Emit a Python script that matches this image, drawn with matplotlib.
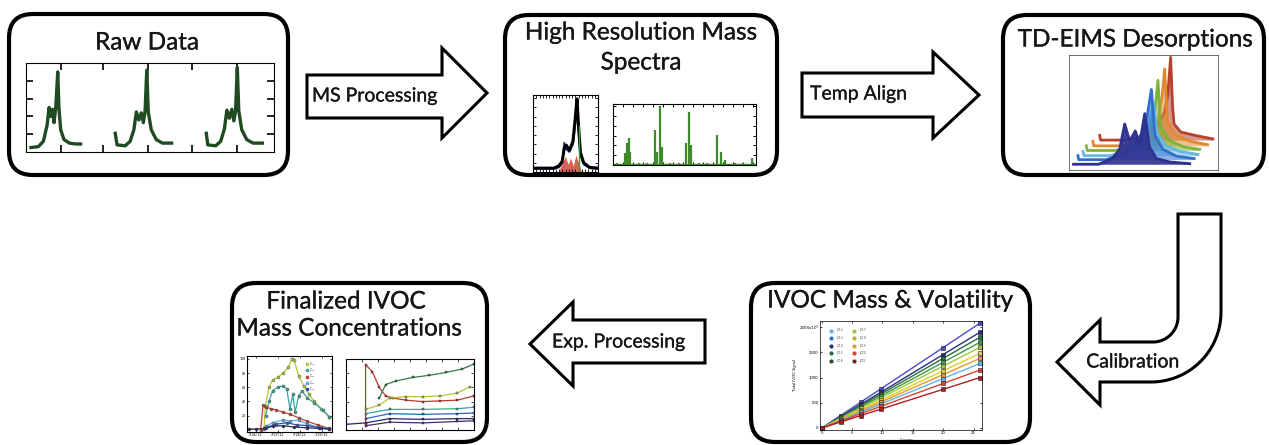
import matplotlib
matplotlib.use("Agg")
import matplotlib.pyplot as plt
import matplotlib.patheffects as pe
import numpy as np
from matplotlib.patches import FancyBboxPatch, Polygon
from matplotlib.ticker import MultipleLocator

plt.rcParams['font.family'] = ['Lato', 'DejaVu Sans']

W, H = 1269, 445

# ---------------- data ----------------
# Raw Data: three desorption traces (x and y in % of the panel)
raw_x1 = [2, 5, 7, 8.5, 9.3, 10, 10.7, 11.3, 12, 12.8, 13.3, 14, 15.3, 17.5, 20, 22]
raw_y1 = [5, 6, 12, 30, 50, 40, 48, 33, 50, 90, 48, 25, 14, 10, 9, 9]
raw_x2 = [36, 36.7, 40, 42, 43.5, 44.5, 45.5, 46.5, 47.3, 48, 48.7, 49.3, 50.5, 52.5, 55, 58.7]
raw_y2 = [21, 8, 7, 12, 25, 45, 36, 44, 33, 45, 92, 45, 25, 14, 10, 10]
raw_x3 = [72.7, 73.3, 76.5, 78.5, 80, 81, 82, 83, 83.8, 84.5, 85.2, 85.8, 87, 89, 91.5, 95.3]
raw_y3 = [21, 8, 7, 12, 26, 47, 38, 48, 35, 46, 95, 46, 25, 14, 10, 10]

# High resolution fit panel
hr_x = [0, 20, 32, 40, 45, 48, 51, 56, 61.5, 65, 67.7, 70, 73, 78, 87, 100]
hr_black = [5, 5, 5, 8, 14, 30, 35, 28, 40, 70, 95, 60, 25, 12, 6, 5]
hr_blue = [4, 4, 4, 6, 12, 38, 30, 26, 36, 62, 88, 55, 22, 10, 5, 4]
hr_red_x = [40, 45, 50, 54, 58, 62, 66, 70, 74]
hr_red = [2, 12, 20, 10, 18, 8, 22, 12, 2]

# High resolution spectrum sticks
spec_x = [3, 8.2, 9.8, 11, 12.2, 18, 24, 29.3, 30.9, 32.8, 34.2, 40, 46, 51.3, 53.2,
          54.6, 60, 66, 72.4, 75.4, 78.5, 85, 91, 97.2]
spec_h = [3, 19, 36, 44, 22, 3, 4, 57, 22, 96, 30, 3, 4, 36, 87,
          33, 3, 4, 49, 22, 8, 3, 4, 11]

# TD-EIMS desorption waterfall (back to front)
td_colors = ['#b5432c', '#e08a2e', '#7fb338', '#66b6e6', '#2f6fcf', '#2e318f']
td_x = [
    [20.6, 21.2, 39, 51, 59, 64, 66.3, 68.2, 69.5, 70.5, 75, 85, 96.6],
    [16, 16.6, 35, 47, 55, 60, 62.5, 64.2, 66, 71, 81, 93],
    [11.6, 12.2, 31, 43, 51, 55.5, 57.5, 59.7, 61.5, 67, 77, 87.7],
    [9.4, 10, 28, 40, 48, 53, 56.8, 59, 65, 75, 86.6],
    [6, 6.5, 25, 36, 45, 51, 55.3, 57.7, 63, 72, 84],
    [3, 20, 29, 34, 37.4, 40.7, 44.5, 47.4, 50.8, 54, 58.6, 67.6, 81],
]
td_y = [
    [30, 26, 26, 30, 38, 50, 65, 98, 55, 40, 33, 30, 27],
    [25, 21, 21, 25, 34, 45, 65, 88, 42, 31, 25, 22],
    [21, 17, 17, 21, 30, 40, 50, 78, 38, 26, 20, 18],
    [16, 12.5, 12.5, 17, 26, 36, 58, 32, 21, 16, 13.5],
    [12.5, 9, 9, 14, 25, 35, 70, 30, 18, 12, 10],
    [5, 5, 10, 18, 40, 25, 34, 22, 49, 20, 10, 7, 5.5],
]

# Calibration: IVOC mass vs total signal
cal_x = [0, 3.1, 6.4, 9.7, 20, 26.1]
cal_colors = ['#4a4ac8', '#22307f', '#2d6b3c', '#3f9a4a', '#9cc93a',
              '#e0cf2a', '#e89a24', '#62b2e8', '#d8442f', '#a82222']
cal_y = [
    [0, 247, 510, 773, 1594, 2080],
    [0, 226, 466, 706, 1456, 1900],
    [0, 214, 442, 669, 1380, 1800],
    [0, 202, 417, 631, 1302, 1700],
    [0, 190, 392, 595, 1226, 1600],
    [0, 176, 363, 550, 1134, 1480],
    [0, 164, 339, 513, 1058, 1380],
    [0, 152, 314, 475, 980, 1280],
    [0, 137, 282, 428, 882, 1150],
    [0, 119, 245, 372, 766, 1000],
]
cal_leg_colors = ['#62b2e8', '#2f6fcf', '#22307f', '#2d6b3c', '#1f4f2a',
                  '#9cc93a', '#b8b020', '#e89a24', '#d8442f', '#7e1c1c']
cal_leg_labels = ['$C_{12}$', '$C_{13}$', '$C_{14}$', '$C_{15}$', '$C_{16}$',
                  '$C_{17}$', '$C_{18}$', '$C_{19}$', '$C_{20}$', '$C_{21}$']

# Finalized concentrations, left panel
fl_colors = ['#b5c83a', '#3aa6a0', '#c0452c', '#5aa8e0', '#3050b0', '#2a2a60']
fl_x = [
    [0, 20, 21.5, 26, 30, 36, 42.5, 48.5, 52.6, 55.5, 60.7, 66.8, 72.9, 79, 87, 97],
    [22, 26, 30, 36, 42.5, 46.6, 50.6, 53.8, 56.7, 60.7, 64.8, 70.9, 79, 89, 97],
    [16, 19, 22, 28, 34, 42.5, 50.6, 60.7, 70.9, 83, 97],
    [22, 30, 42.5, 50.6, 60.7, 70.9, 83, 97],
    [22, 34, 46.6, 58.7, 70.9, 87, 97],
    [2, 10, 20, 30, 42, 55, 70, 85, 97],
]
fl_y = [
    [1, 1, 34, 60, 70, 74, 80, 88, 100, 98, 76, 62, 50, 40, 30, 18],
    [20, 40, 55, 60, 62, 58, 30, 50, 25, 48, 55, 45, 38, 28, 18],
    [0, 35, 32, 30, 28, 25, 22, 17, 12, 7, 2],
    [5, 10, 14, 12, 14, 8, 4, 2],
    [3, 8, 10, 7, 6, 3, 1],
    [1, 1, 2, 5, 6, 4, 3, 2, 1],
]
fl_leg_labels = ['C$_{12}$', 'C$_{13}$', 'C$_{14}$', 'C$_{15}$', 'C$_{16}$']

# Finalized concentrations, right panel
fr_colors = ['#c0392b', '#2e7d46', '#b8c23a', '#3aa6a0', '#3060c0', '#222a66', '#4a2a6a']
fr_x = [
    [15.3, 15.3, 20.6, 26, 31, 36.5, 47, 60, 73.5, 86.8, 100],
    [26, 31, 39, 52, 65, 78, 91, 100],
    [15.3, 26, 34, 47, 60, 73.5, 86.8, 97],
    [15.3, 34, 60, 86.8, 100],
    [15.3, 34, 60, 86.8, 100],
    [0, 15.3, 34, 60, 86.8, 100],
    [15.3, 34, 60, 86.8, 100],
]
fr_y = [
    [8, 92, 82, 60, 48, 45, 42, 40, 41, 42, 48],
    [45, 64, 69, 74, 77, 81, 86, 93],
    [29, 35, 45, 47, 47, 48, 52, 61],
    [23, 29, 29, 30, 32],
    [16, 23, 22, 23, 24],
    [8, 10, 16, 15, 16, 16],
    [6, 11, 10, 12, 13],
]

# ---------------- figure ----------------
fig = plt.figure(figsize=(W / 100, H / 100), dpi=100)
bg = fig.add_axes([0, 0, 1, 1])
bg.set_xlim(0, W)
bg.set_ylim(H, 0)
bg.axis('off')

TXT = '#161616'
BOLDEN = [pe.withStroke(linewidth=0.2, foreground=TXT)]


def label(x, y, s, size=17.5, ha='center'):
    bg.text(x, y, s, ha=ha, va='center', fontsize=size, color=TXT, zorder=3,
            path_effects=BOLDEN)


def panel(x0, y0, x1, y1):
    ax = fig.add_axes([x0 / W, 1 - y1 / H, (x1 - x0) / W, (y1 - y0) / H])
    ax.set_xlim(0, 100)
    ax.set_ylim(0, 100)
    ax.tick_params(direction='in', length=3, width=0.8, top=True, right=True,
                   labelbottom=False, labelleft=False)
    for s in ax.spines.values():
        s.set_linewidth(0.8)
    return ax


def box(x0, y0, x1, y1):
    bg.add_patch(FancyBboxPatch((x0, y0), x1 - x0, y1 - y0,
                                boxstyle="round,pad=0,rounding_size=24",
                                fc='white', ec='black', lw=3.0, zorder=2))


def arrow(x0, y0, y1, hx, hy0, hy1, tip):
    ym = (hy0 + hy1) / 2
    pts = [(x0, y0), (hx, y0), (hx, hy0), (tip, ym), (hx, hy1), (hx, y1), (x0, y1)]
    bg.add_patch(Polygon(pts, closed=True, fc='white', ec='black', lw=2.2,
                         joinstyle='miter', zorder=2))


# boxes
box(9, 14, 288, 175)
box(505, 15, 777, 175)
box(1003, 15, 1264, 175)
box(751, 283, 1030, 442)
box(232, 283, 487, 442)

label(147, 43, 'Raw Data')
label(641, 33, 'High Resolution Mass')
label(641, 63, 'Spectra')
label(1135, 40, 'TD-EIMS Desorptions')
label(890, 301, 'IVOC Mass & Volatility')
label(346, 302, 'Finalized IVOC')
label(349, 329, 'Mass Concentrations')

# arrows
arrow(307, 75, 118, 442, 48, 138, 487)
label(312, 96, 'MS Processing', size=14, ha='left')
arrow(802, 73, 117, 933, 52, 138, 979)
label(810, 94, 'Temp Align', size=14, ha='left')
arrow(705, 320, 363, 573, 302, 386, 530)
label(552, 342, 'Exp. Processing', size=14, ha='left')

# U-turn calibration arrow
t_in = np.linspace(np.pi / 2, 0, 20)
t_out = np.linspace(0, np.pi / 2, 30)
verts = [(1057, 362), (1100, 320), (1100, 342), (1153, 342)]
verts += [(1153 + 25 * np.cos(t), 317 + 25 * np.sin(t)) for t in t_in]
verts += [(1178, 214), (1221, 214), (1221, 312)]
verts += [(1151 + 70 * np.cos(t), 312 + 70 * np.sin(t)) for t in t_out]
verts += [(1100, 382), (1100, 405), (1057, 362)]
bg.add_patch(Polygon(verts, closed=True, fc='white', ec='black', lw=2.2,
                     joinstyle='miter', zorder=2))
label(1133, 362, 'Calibration', size=14)

# ---- Raw Data panel
ax = panel(26, 63, 274, 152)
for xs, ys in [(raw_x1, raw_y1), (raw_x2, raw_y2), (raw_x3, raw_y3)]:
    ax.plot(xs, ys, color='#1f4a22', lw=2.4)
ax.set_xticks([14, 31, 49, 67, 85])
ax.set_yticks([20, 40, 60, 80])
ax.tick_params(length=5, width=1.2)

# ---- High resolution panels
ax = panel(533, 95, 598, 172)
ax.fill_between(hr_red_x, 0, hr_red, color='#d23a2a', alpha=0.8, lw=0)
ax.plot(hr_x, hr_blue, color='#2a3aa8', lw=1.4)
ax.plot(hr_x, hr_black, color='black', lw=2.2)
ax.plot([70, 70], [0, 60], color='#3a9a3a', lw=1.0)
ax.xaxis.set_major_locator(MultipleLocator(5))
ax.yaxis.set_major_locator(MultipleLocator(12))
ax.tick_params(length=2, width=0.6)

ax = panel(613, 104, 756, 165)
ax.vlines(spec_x, 1, spec_h, color='#3f8a2a', lw=1.6)
ax.plot([0, 100], [1.5, 1.5], color='#3f8a2a', lw=1.0)
ax.xaxis.set_major_locator(MultipleLocator(7))
ax.yaxis.set_major_locator(MultipleLocator(16))
ax.tick_params(length=2.5, width=0.7)

# ---- TD-EIMS waterfall
ax = panel(1069, 55, 1218, 170)
ax.tick_params(length=0)
for i, (xs, ys, c) in enumerate(zip(td_x, td_y, td_colors)):
    base = min(ys)
    ax.fill_between(xs, base, ys, color=c, alpha=0.55 if i < 5 else 0.9, lw=0, zorder=i)
    ax.plot(xs, ys, color=c, lw=2.0, zorder=i + 0.5)
for s in ax.spines.values():
    s.set_linewidth(0.6)
    s.set_color('#555555')

# ---- Calibration panel
ax = fig.add_axes([820 / W, 1 - 430 / H, (982 - 820) / W, (430 - 321) / H])
ax.set_xlim(-0.3, 26.4)
ax.set_ylim(-40, 2120)
for ys, c in zip(cal_y, cal_colors):
    ax.plot(cal_x, ys, color=c, lw=1.0)
    ax.plot(cal_x, ys, ls='none', marker='s', ms=2.4, color=c, mec='#202020', mew=0.4)
ax.set_xticks([0, 5, 10, 15, 20, 25])
ax.set_yticks([0, 500, 1000, 1500, 2000])
ax.set_yticklabels(['0', '500', '1000', '1500', '2000x10$^3$'])
ax.tick_params(direction='in', length=1.5, width=0.5, labelsize=3, pad=1, top=True, right=True)
ax.set_xlabel('µg m$^{-3}$ IVOC', fontsize=3, labelpad=1)
ax.set_ylabel('Total IVOC Signal', fontsize=3, labelpad=1)
for s in ax.spines.values():
    s.set_linewidth(0.5)
for k, (c, lab) in enumerate(zip(cal_leg_colors, cal_leg_labels)):
    col, row = divmod(k, 5)
    xx = 1.5 + col * 3.8
    yy = 1930 - row * 150
    ax.plot([xx], [yy], marker='o', ms=2.0, color=c, ls='none')
    ax.text(xx + 0.8, yy, lab, fontsize=2.6, va='center', color='#333333')

# ---- Finalized concentrations, left
ax = panel(247, 356, 332, 432)
for xs, ys, c in zip(fl_x, fl_y, fl_colors):
    ax.plot(xs, ys, color=c, lw=0.9, marker='o', ms=2.2, mec='#404040', mew=0.3)
ax.set_ylim(-3, 104)
ax.set_xticks([10, 36, 62, 88])
ax.set_xticklabels(['7/26/12', '7/27/12', '7/28/12', '7/29/12'])
ax.set_yticks([20, 40, 60, 80, 100])
ax.tick_params(length=1.5, width=0.5, labelsize=2.5, pad=1, labelbottom=True, labelleft=True)
ax.set_ylabel('Concentration µg m$^{-3}$', fontsize=2.5, labelpad=1)
for k, (c, lab) in enumerate(zip(fl_colors[:5], fl_leg_labels)):
    ax.plot([70], [93 - k * 9], marker='s', ms=1.8, color=c, ls='none')
    ax.text(73, 93 - k * 9, lab, fontsize=2.2, va='center', color='#333333')

# ---- Finalized concentrations, right
ax = panel(346, 359, 474, 430)
for xs, ys, c in zip(fr_x, fr_y, fr_colors):
    ax.plot(xs, ys, color=c, lw=0.9, marker='s', ms=1.8, mec='#303030', mew=0.3)
ax.xaxis.set_major_locator(MultipleLocator(12.5))
ax.yaxis.set_major_locator(MultipleLocator(20))
ax.tick_params(length=2, width=0.5)

fig.savefig('out.png', dpi=100, facecolor='white')
